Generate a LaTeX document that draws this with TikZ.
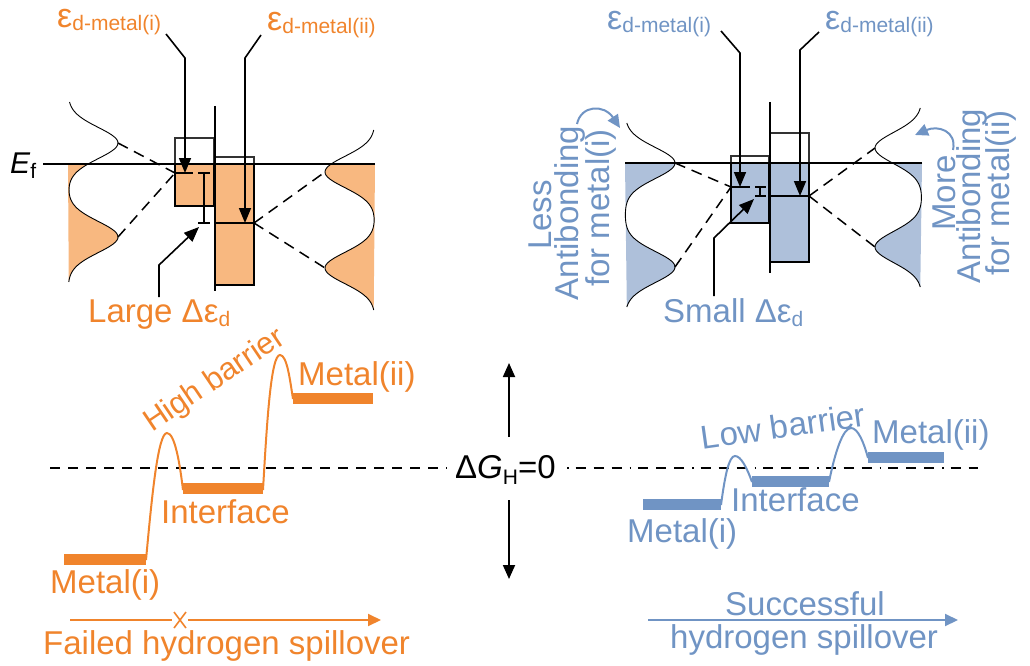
\documentclass[tikz,border=0pt]{standalone}
\usepackage{fontspec}
\setmainfont{Liberation Sans}
\usetikzlibrary{arrows.meta}
\definecolor{otext}{HTML}{F0842C}
\definecolor{ofill}{HTML}{F8B880}
\definecolor{btext}{HTML}{7094C4}
\definecolor{bfill}{HTML}{AEC0DA}
\newcommand{\lblfs}{\fontsize{33}{33}\selectfont}
\newcommand{\subfs}{\fontsize{21}{21}\selectfont}
\newcommand{\epsfs}{\fontsize{34}{34}\selectfont}
\begin{document}
\begin{tikzpicture}[x=1pt,y=-1pt,
  declare function={gs(\s,\m)=exp(-((\s-\m)/22)*((\s-\m)/22));},
  lbl/.style={inner sep=0pt, anchor=base west, font=\lblfs},
  rlbl/.style={inner sep=0pt, anchor=base, rotate=90, font=\lblfs, text=btext},
  dosline/.style={black, line width=0.9pt},
  efline/.style={black, line width=1.5pt},
  boxthin/.style={draw=black!80, line width=1.1pt},
  boxthick/.style={draw=black, line width=1.8pt},
  sepline/.style={black, line width=2.4pt},
  dline/.style={black, line width=1.6pt},
  dashl/.style={black, line width=1.5pt, dash pattern=on 11pt off 7pt},
  ptr/.style={black, line width=1.6pt, -{Triangle[length=15pt,width=12pt]}},
  vptr/.style={black, line width=1.8pt, -{Triangle[length=14pt,width=12pt]}},
  bar/.style={line width=11pt},
  barrier/.style={line width=2pt},
  curvptr/.style={btext, line width=2pt, -{Triangle[length=13pt,width=12pt]}},
  spill/.style={line width=2pt, -{Triangle[length=13pt,width=12pt]}}
]
\useasboundingbox (0,0) rectangle (1030,666);

%================ LEFT (orange) PANEL =================
\fill[ofill] (68,164) -- plot[domain=164:282,samples=60] ({68+50*(gs(\x,143)+gs(\x,237))},\x) -- cycle;
\fill[ofill] (375,164) -- plot[domain=164:310,samples=60] ({375-50*(gs(\x,172)+gs(\x,268))},\x) -- cycle;
\fill[ofill] (175,164) rectangle (214,206);
\fill[ofill] (215,164) rectangle (254,285);
\draw[dosline] plot[domain=102:282,samples=100] ({68+50*(gs(\x,143)+gs(\x,237))},\x);
\draw[dosline] plot[domain=130:310,samples=100] ({375-50*(gs(\x,172)+gs(\x,268))},\x);
\draw[boxthin] (175,138) rectangle (214,206);
\draw[boxthin] (215,157) rectangle (254,285);
\draw[boxthick] (175,164) rectangle (214,206);
\draw[boxthick] (215,164) rectangle (254,285);
\coordinate (efL1) at (43,164); \coordinate (efL2) at (375,164);
\draw[efline] (efL1) -- (efL2);
\node[inner sep=0pt, anchor=base west] (EfLab) at (10,173) {\fontsize{30}{30}\selectfont\textit{E}\raisebox{-5pt}{\subfs f}};
\coordinate (sepL1) at (215,106); \coordinate (sepL2) at (215,291);
\draw[sepline] (sepL1) -- (sepL2);
\coordinate (dL1a) at (175,173); \coordinate (dL1b) at (193,173);
\coordinate (dL2a) at (215,223); \coordinate (dL2b) at (254,223);
\draw[dline] (dL1a) -- (dL1b);
\draw[dline] (dL2a) -- (dL2b);
\coordinate (ibL1) at (204,173); \coordinate (ibL2) at (204,223);
\draw[dline] (ibL1) -- (ibL2) (198,173) -- (210,173) (198,223) -- (210,223);
\coordinate (pL1) at (118,143); \coordinate (pL2) at (118,237);
\coordinate (pL3) at (325,172); \coordinate (pL4) at (325,268);
\draw[dashl] (pL1) -- (dL1a);
\draw[dashl] (pL2) -- (dL1a);
\draw[dashl] (dL2b) -- (pL3);
\draw[dashl] (dL2b) -- (pL4);
\node[lbl, text=otext] (epsLi) at (57,28) {\epsfs ε\raisebox{-3pt}{\subfs d-metal(i)}};
\node[lbl, text=otext] (epsLii) at (267,31) {\epsfs ε\raisebox{-3pt}{\subfs d-metal(ii)}};
\coordinate (aL1s) at (166,34); \coordinate (aL1k) at (185,58); \coordinate (aL1e) at (185,173);
\draw[ptr] (aL1s) -- (aL1k) -- (aL1e);
\coordinate (aL2s) at (261,35); \coordinate (aL2k) at (245,58); \coordinate (aL2e) at (245,223);
\draw[ptr] (aL2s) -- (aL2k) -- (aL2e);
\node[lbl, text=otext] (largeLab) at (88,322) {Large Δε\raisebox{-4pt}{\subfs d}};
\coordinate (aL3s) at (159,297); \coordinate (aL3k) at (159,265); \coordinate (aL3e) at (199,227);
\draw[ptr] (aL3s) -- (aL3k) -- (aL3e);

%================ RIGHT (blue) PANEL =================
\fill[bfill] (625,163) -- plot[domain=163:307,samples=60] ({625+50*(gs(\x,163)+gs(\x,267))},\x) -- cycle;
\fill[bfill] (922,163) -- plot[domain=163:287,samples=60] ({922-47*(gs(\x,148)+gs(\x,247))},\x) -- cycle;
\fill[bfill] (731,163) rectangle (769,223);
\fill[bfill] (770,163) rectangle (809,262);
\draw[dosline] plot[domain=123:307,samples=100] ({625+50*(gs(\x,163)+gs(\x,267))},\x);
\draw[dosline] plot[domain=108:287,samples=100] ({922-47*(gs(\x,148)+gs(\x,247))},\x);
\draw[boxthin] (731,156) rectangle (769,223);
\draw[boxthin] (770,133) rectangle (809,262);
\draw[boxthick] (731,163) rectangle (769,223);
\draw[boxthick] (770,163) rectangle (809,262);
\coordinate (efR1) at (625,163); \coordinate (efR2) at (922,163);
\draw[efline] (efR1) -- (efR2);
\coordinate (sepR1) at (770,102); \coordinate (sepR2) at (770,273);
\draw[sepline] (sepR1) -- (sepR2);
\coordinate (dR1a) at (731,187); \coordinate (dR1b) at (750,187);
\coordinate (dR2a) at (770,196); \coordinate (dR2b) at (809,196);
\draw[dline] (dR1a) -- (dR1b);
\draw[dline] (dR2a) -- (dR2b);
\coordinate (ibR1) at (760,187); \coordinate (ibR2) at (760,196);
\draw[dline] (ibR1) -- (ibR2) (755,187) -- (766,187) (755,196) -- (766,196);
\coordinate (pR1) at (675,163); \coordinate (pR2) at (675,267);
\coordinate (pR3) at (875,148); \coordinate (pR4) at (875,247);
\draw[dashl] (pR1) -- (dR1a);
\draw[dashl] (pR2) -- (dR1a);
\draw[dashl] (dR2b) -- (pR3);
\draw[dashl] (dR2b) -- (pR4);
\node[lbl, text=btext] (epsRi) at (607,30) {\epsfs ε\raisebox{-3pt}{\subfs d-metal(i)}};
\node[lbl, text=btext] (epsRii) at (825,30) {\epsfs ε\raisebox{-3pt}{\subfs d-metal(ii)}};
\coordinate (aR1s) at (721,31); \coordinate (aR1k) at (740,53); \coordinate (aR1e) at (740,187);
\draw[ptr] (aR1s) -- (aR1k) -- (aR1e);
\coordinate (aR2s) at (819,32); \coordinate (aR2k) at (800,50); \coordinate (aR2e) at (800,196);
\draw[ptr] (aR2s) -- (aR2k) -- (aR2e);
\node[lbl, text=btext] (smallLab) at (663,322) {Small Δε\raisebox{-4pt}{\subfs d}};
\coordinate (aR3s) at (714,296); \coordinate (aR3k) at (714,238); \coordinate (aR3e) at (754,199);
\draw[ptr] (aR3s) -- (aR3k) -- (aR3e);
\node[rlbl] (lessA) at (551,215) {Less};
\node[rlbl] (lessB) at (578,213) {Antibonding};
\node[rlbl] (lessC) at (609,208) {for metal(i)};
\node[rlbl] (moreA) at (955,193) {More};
\node[rlbl] (moreB) at (980,196) {Antibonding};
\node[rlbl] (moreC) at (1009,193) {for metal(ii)};
\coordinate (cvL1) at (577,124); \coordinate (cvL2) at (620,128);
\draw[curvptr] (cvL1) .. controls (581,105) and (604,104) .. (cvL2);
\coordinate (cvR1) at (953,150); \coordinate (cvR2) at (915,135);
\draw[curvptr] (cvR1) .. controls (957,131) and (938,125) .. (cvR2);

%================ ENERGY DIAGRAM =================
\coordinate (gl1) at (50,468); \coordinate (gl2) at (447,468);
\coordinate (gr1) at (567,468); \coordinate (gr2) at (978,468);
\draw[black, line width=1.6pt, dash pattern=on 10pt off 8pt] (gl1) -- (gl2);
\draw[black, line width=1.6pt, dash pattern=on 1.5pt off 7pt on 10pt off 8pt on 10pt off 8pt on 10pt off 8pt] (gr1) -- (gr2);
\node[lbl] (dG) at (455,478) {Δ\textit{G}\raisebox{-6pt}{\subfs H}=0};
\coordinate (up1) at (509,437); \coordinate (up2) at (509,363);
\coordinate (dn1) at (509,500); \coordinate (dn2) at (509,579);
\draw[vptr] (up1) -- (up2);
\draw[vptr] (dn1) -- (dn2);

\coordinate (om1a) at (64,559); \coordinate (om1b) at (146,559);
\coordinate (oifa) at (183,488); \coordinate (oifb) at (263,488);
\coordinate (om2a) at (293,398); \coordinate (om2b) at (373,398);
\draw[otext, bar] (om1a) -- (om1b);
\draw[otext, bar] (oifa) -- (oifb);
\draw[otext, bar] (om2a) -- (om2b);
\draw[otext, barrier] (146,560) .. controls (152,495) and (158,433) .. (167,433) .. controls (175,433) and (180,465) .. (183,490);
\draw[otext, barrier] (263,490) .. controls (267,420) and (271,355) .. (280,355) .. controls (287,355) and (290,380) .. (293,399);
\node[lbl, text=otext] (oM1) at (50,593) {Metal(i)};
\node[lbl, text=otext] (oIf) at (161,523) {Interface};
\node[lbl, text=otext] (oM2) at (298,385) {Metal(ii)};
\node[inner sep=0pt, rotate=34, font=\fontsize{31}{31}\selectfont, text=otext] (oHB) at (215,381) {High barrier};

\coordinate (fa1) at (70,620); \coordinate (fa2) at (172,620);
\coordinate (fa3) at (188,620); \coordinate (fa4) at (381,620);
\draw[otext, line width=2pt] (fa1) -- (fa2);
\draw[otext, spill] (fa3) -- (fa4);
\draw[otext, line width=1.6pt] (174,612) -- (186,628) (186,612) -- (174,628);
\node[lbl, text=otext] (failLab) at (43,654) {Failed hydrogen spillover};

\coordinate (bm1a) at (643,504); \coordinate (bm1b) at (721,504);
\coordinate (bifa) at (752,481); \coordinate (bifb) at (829,481);
\coordinate (bm2a) at (868,457); \coordinate (bm2b) at (944,457);
\draw[btext, bar] (bm1a) -- (bm1b);
\draw[btext, bar] (bifa) -- (bifb);
\draw[btext, bar] (bm2a) -- (bm2b);
\draw[btext, barrier] (721,505) .. controls (725,475) and (729,456) .. (735,456) .. controls (741,456) and (747,468) .. (752,482);
\draw[btext, barrier] (829,482) .. controls (835,452) and (843,428) .. (851,428) .. controls (858,428) and (864,443) .. (868,458);
\node[lbl, text=btext] (bM1) at (627,542) {Metal(i)};
\node[lbl, text=btext] (bIf) at (731,511) {Interface};
\node[lbl, text=btext] (bM2) at (872,443) {Metal(ii)};
\node[inner sep=0pt, rotate=8, font=\lblfs, text=btext] (bLB) at (783,426) {Low barrier};

\coordinate (sa1) at (648,620); \coordinate (sa2) at (958,620);
\draw[btext, spill] (sa1) -- (sa2);
\node[lbl, text=btext] (succA) at (725,615) {Successful};
\node[lbl, text=btext] (succB) at (670,648) {hydrogen spillover};
\end{tikzpicture}
\end{document}
